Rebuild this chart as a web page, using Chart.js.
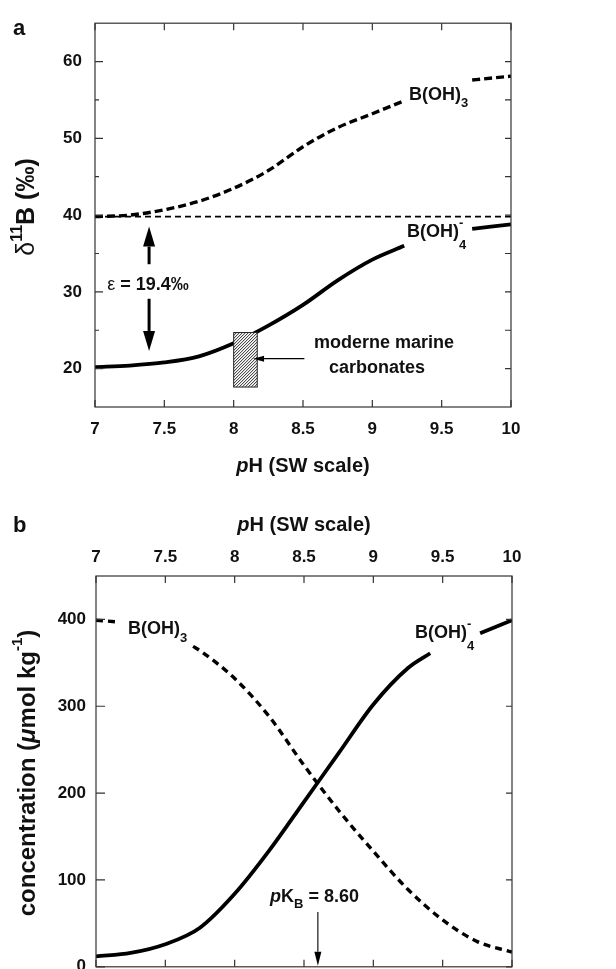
<!DOCTYPE html>
<html>
<head>
<meta charset="utf-8">
<script src="https://cdn.jsdelivr.net/npm/chart.js@4.4.0/dist/chart.umd.min.js"></script>
<style>
  html,body{margin:0;background:#fff;overflow:hidden;height:969px}
  .p{position:absolute;left:0;width:616px}
  #wa{top:0;height:485px}
  #wb{top:485px;height:502px}
</style>
</head>
<body>
<div class="p" id="wa"><canvas id="ca" width="616" height="485"></canvas></div>
<div class="p" id="wb"><canvas id="cb" width="616" height="502"></canvas></div>
<script>
// ---- panel a : d11B vs pH ----
const aPH     = [7, 7.25, 7.5, 7.75, 8, 8.25, 8.5, 8.75, 9, 9.23, 9.5, 9.72, 10];
const aBoric  = [39.8, 40.0, 40.7, 41.8, 43.5, 45.8, 48.9, 51.4, 53.2, 54.9, null, 57.6, 58.1];
const aBorate = [20.2, 20.4, 20.8, 21.6, 23.3, 25.6, 28.3, 31.5, 34.2, 36.0, null, 38.2, 38.8];
const aSwPH   = [7, 10];
const aSw     = [39.8, 39.8];

// ---- panel b : concentration vs pH ----
const bBoricPH  = [7, 7.17, 7.45, 7.70, 7.75, 8, 8.25, 8.5, 8.75, 9, 9.25, 9.5, 9.75, 10];
const bBoric    = [399, 397, null, 369, 364, 332, 288, 232, 180, 133, 89, 54, 29, 17];
const bBoratePH = [7, 7.25, 7.5, 7.75, 8, 8.25, 8.5, 8.75, 9, 9.25, 9.41, 9.6, 9.77, 10];
const bBorate   = [12, 16, 26, 45, 84, 134, 190, 246, 302, 344, 361, null, 384, 399];

// ticks
const xTicks  = [7, 7.5, 8, 8.5, 9, 9.5, 10];
const aYTicks = [20, 30, 40, 50, 60];
const aYMinor = [25, 35, 45, 55];
const bYTicks = [0, 100, 200, 300, 400];

const FF = '"Liberation Sans", Arial, sans-serif';
const INK = '#111';

function pts(xs, ys){ return xs.map((x,i)=>({x:x, y:ys[i]})); }

function rich(ctx, x, y, parts, align){
  // parts: [text, font, dy, noAdvance]
  ctx.save(); ctx.textBaseline='middle'; ctx.textAlign='left'; ctx.fillStyle=INK;
  let w=0;
  for(const p of parts){ ctx.font=p[1]; if(!p[3]) w+=ctx.measureText(p[0]).width; }
  let cx = align==='center' ? x-w/2 : x;
  for(const p of parts){
    ctx.font=p[1]; ctx.fillText(p[0], cx, y+(p[2]||0));
    if(!p[3]) cx+=ctx.measureText(p[0]).width;
  }
  ctx.restore();
}

function arrow(ctx, x1, y1, x2, y2, lw, hl, hw){
  const a=Math.atan2(y2-y1, x2-x1);
  const bx=x2-hl*Math.cos(a), by=y2-hl*Math.sin(a);
  ctx.save(); ctx.strokeStyle='#000'; ctx.fillStyle='#000'; ctx.lineWidth=lw;
  ctx.beginPath(); ctx.moveTo(x1,y1); ctx.lineTo(bx,by); ctx.stroke();
  ctx.beginPath(); ctx.moveTo(x2,y2);
  ctx.lineTo(bx+hw/2*Math.sin(a), by-hw/2*Math.cos(a));
  ctx.lineTo(bx-hw/2*Math.sin(a), by+hw/2*Math.cos(a));
  ctx.closePath(); ctx.fill();
  ctx.restore();
}

// frame + inward ticks
function frame(chart, o){
  const {ctx, chartArea:ca, scales:{x, y}} = chart;
  ctx.save(); ctx.strokeStyle='#333'; ctx.lineWidth=1.2;
  ctx.strokeRect(ca.left, ca.top, ca.right-ca.left, ca.bottom-ca.top);
  ctx.beginPath();
  for(const v of xTicks){
    const px=x.getPixelForValue(v);
    ctx.moveTo(px, ca.bottom); ctx.lineTo(px, ca.bottom-7);
    ctx.moveTo(px, ca.top); ctx.lineTo(px, ca.top+7);
  }
  for(const v of o.yMajor){
    const py=y.getPixelForValue(v);
    ctx.moveTo(ca.left, py); ctx.lineTo(ca.left+o.lenL, py);
    ctx.moveTo(ca.right, py); ctx.lineTo(ca.right-6, py);
  }
  for(const v of o.yMinor){
    const py=y.getPixelForValue(v);
    ctx.moveTo(ca.left, py); ctx.lineTo(ca.left+4, py);
    ctx.moveTo(ca.right, py); ctx.lineTo(ca.right-6, py);
  }
  ctx.stroke(); ctx.restore();
}

const B18 = 'bold 18px '+FF, S13 = 'bold 13px '+FF;

const plugA = {
  id:'annA',
  afterDraw(chart){
    const {ctx, scales:{x, y}} = chart;
    frame(chart, {yMajor:aYTicks, yMinor:aYMinor, lenL:8});
    // hatched box: modern marine carbonates
    const rx1=x.getPixelForValue(8.0), rx2=x.getPixelForValue(8.17);
    const ry1=y.getPixelForValue(24.7), ry2=y.getPixelForValue(17.6);
    ctx.save();
    ctx.fillStyle='#fff'; ctx.fillRect(rx1, ry1, rx2-rx1, ry2-ry1);
    ctx.beginPath(); ctx.rect(rx1, ry1, rx2-rx1, ry2-ry1); ctx.clip();
    ctx.strokeStyle='#222'; ctx.lineWidth=1; ctx.beginPath();
    for(let k=-(ry2-ry1); k<(rx2-rx1)+(ry2-ry1); k+=3){
      ctx.moveTo(rx1+k, ry2); ctx.lineTo(rx1+k+(ry2-ry1), ry1);
    }
    ctx.stroke(); ctx.restore();
    ctx.save(); ctx.strokeStyle='#222'; ctx.lineWidth=1;
    ctx.strokeRect(rx1, ry1, rx2-rx1, ry2-ry1); ctx.restore();

    // epsilon double arrow
    const ax=x.getPixelForValue(7.39);
    arrow(ctx, ax, y.getPixelForValue(33.6), ax, y.getPixelForValue(38.5), 3, 20, 12);
    arrow(ctx, ax, y.getPixelForValue(29.1), ax, y.getPixelForValue(22.3), 3, 20, 12);
    rich(ctx, x.getPixelForValue(7.382), y.getPixelForValue(30.94),
      [['\u03b5', '18px '+FF], [' = 19.4\u2030', B18]], 'center');
    // carbonates pointer
    arrow(ctx, x.getPixelForValue(8.51), y.getPixelForValue(21.3), x.getPixelForValue(8.14), y.getPixelForValue(21.3), 1.1, 11, 6);
    rich(ctx, x.getPixelForValue(9.084), y.getPixelForValue(23.3), [['moderne marine', B18]], 'center');
    rich(ctx, x.getPixelForValue(9.034), y.getPixelForValue(20.1), [['carbonates', B18]], 'center');
    // species labels
    rich(ctx, x.getPixelForValue(9.264), y.getPixelForValue(55.7), [['B(OH)', B18], ['3', S13, 9]]);
    rich(ctx, x.getPixelForValue(9.25), y.getPixelForValue(37.8), [['B(OH)', B18], ['4', S13, 13, true], ['-', S13, -9]]);

    // titles
    const ca=chart.chartArea;
    rich(ctx, (ca.left+ca.right)/2, 466, [['p', 'bold italic 20px '+FF], ['H (SW scale)', 'bold 20px '+FF]], 'center');
    rich(ctx, 13, 29, [['a', 'bold 22px '+FF]]);
    ctx.save(); ctx.translate(27, 207); ctx.rotate(-Math.PI/2);
    rich(ctx, 0, 0, [['\u03b4', '25px '+FF], ['11', 'bold 16px '+FF, -9], ['B (\u2030)', 'bold 25px '+FF]], 'center');
    ctx.restore();
  }
};

const plugB = {
  id:'annB',
  afterDraw(chart){
    const {ctx, scales:{x, y}} = chart;
    frame(chart, {yMajor:bYTicks, yMinor:[], lenL:9});
    rich(ctx, x.getPixelForValue(7.231), y.getPixelForValue(389), [['B(OH)', B18], ['3', S13, 9]]);
    rich(ctx, x.getPixelForValue(9.30), y.getPixelForValue(384), [['B(OH)', B18], ['4', S13, 13, true], ['-', S13, -9]]);
    rich(ctx, x.getPixelForValue(8.255), y.getPixelForValue(80),
      [['p', 'bold italic 18px '+FF], ['K', B18], ['B', S13, 7], [' = 8.60', B18]]);
    const kx=x.getPixelForValue(8.60);
    arrow(ctx, kx, y.getPixelForValue(63), kx, y.getPixelForValue(1.2), 1.1, 14, 7);

    const ca=chart.chartArea;
    rich(ctx, (ca.left+ca.right)/2, 40, [['p', 'bold italic 20px '+FF], ['H (SW scale)', 'bold 20px '+FF]], 'center');
    rich(ctx, 13, 41, [['b', 'bold 22px '+FF]]);
    ctx.save(); ctx.translate(28, 288); ctx.rotate(-Math.PI/2);
    rich(ctx, 0, 0, [['concentration (', 'bold 24px '+FF], ['\u03bc', 'bold italic 24px '+FF],
      ['mol kg', 'bold 24px '+FF], ['-1', 'bold 15px '+FF, -10], [')', 'bold 24px '+FF]], 'center');
    ctx.restore();
  }
};

const tickFont = {family:FF, size:17, weight:'bold'};

function xScale(pos, h, pad){
  return {
    type:'linear', position:pos, min:7, max:10,
    grid:{display:false, drawTicks:false}, border:{display:false},
    afterBuildTicks: s => { s.ticks = xTicks.map(v=>({value:v})); },
    ticks:{color:INK, font:tickFont, padding:pad, maxRotation:0, autoSkip:false, callback: v => String(v)},
    afterFit: s => { s.height = h; }
  };
}
function yScale(min, max, list, w, pad){
  return {
    type:'linear', min:min, max:max,
    grid:{display:false, drawTicks:false}, border:{display:false},
    afterBuildTicks: s => { s.ticks = list.map(v=>({value:v})); },
    ticks:{color:INK, font:tickFont, padding:pad, autoSkip:false, callback: v => String(v)},
    afterFit: s => { s.width = w; }
  };
}

const common = {
  responsive:false, animation:false, devicePixelRatio:1,
  plugins:{legend:{display:false}, tooltip:{enabled:false}},
  elements:{point:{radius:0}, line:{borderColor:'#000', cubicInterpolationMode:'monotone', fill:false, borderCapStyle:'butt'}}
};

new Chart(document.getElementById('ca'), {
  type:'line',
  data:{datasets:[
    {data:pts(aPH, aBoric),  borderWidth:3.4, borderDash:[8,4]},
    {data:pts(aPH, aBorate), borderWidth:3.8},
    {data:pts(aSwPH, aSw),   borderWidth:1.8, borderDash:[6,4]}
  ]},
  options:Object.assign({}, common, {
    layout:{padding:{top:15, right:105, left:0, bottom:0}},
    scales:{ x:xScale('bottom', 78, 12), y:yScale(15, 65, aYTicks, 95, 13) }
  }),
  plugins:[plugA]
});

new Chart(document.getElementById('cb'), {
  type:'line',
  data:{datasets:[
    {data:pts(bBoricPH, bBoric),   borderWidth:3.4, borderDash:[7,5]},
    {data:pts(bBoratePH, bBorate), borderWidth:3.8}
  ]},
  options:Object.assign({}, common, {
    layout:{padding:{top:0, right:104, left:0, bottom:3}},
    scales:{ x:xScale('top', 91, 8), y:yScale(0, 450, bYTicks, 96, 10) }
  }),
  plugins:[plugB]
});
</script>
</body>
</html>
